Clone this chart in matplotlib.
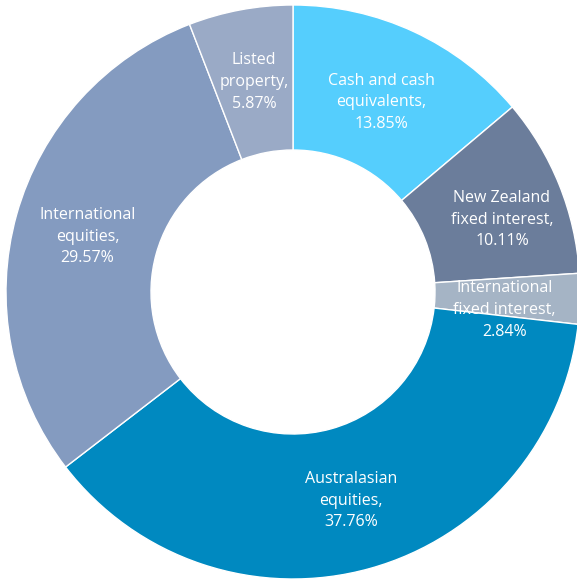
import matplotlib.pyplot as plt

labels = ['Cash and cash\nequivalents,\n13.85%',
          'New Zealand\nfixed interest,\n10.11%',
          'International\nfixed interest,\n2.84%',
          'Australasian\nequities,\n37.76%',
          'International\nequities,\n29.57%',
          'Listed\nproperty,\n5.87%']
values = [13.85, 10.11, 2.84, 37.76, 29.57, 5.87]
colors = ['#55CEFD', '#6B7D9B', '#A5B4C5', '#0089C0', '#849BC0', '#9AAAC6']

# small label nudges (px right, px down) to match the original placement
nudges = [(-1, 3), (12, 7), (-1, 13), (1, 4), (-1, 2), (0, -1)]

fig = plt.figure(figsize=(5.77, 5.80), dpi=100)
ax = fig.add_axes([0, 0, 1, 1])

wedges, texts = ax.pie(values, labels=labels, colors=colors, startangle=90,
                       counterclock=False, center=(293, 288), radius=287,
                       labeldistance=0.74, frame=True,
                       wedgeprops=dict(width=145, edgecolor='white', linewidth=1),
                       textprops=dict(color='white', fontsize=11.5,
                                      family=['Open Sans', 'DejaVu Sans'],
                                      linespacing=1.48))
for t, (dx, dy) in zip(texts, nudges):
    t.set_ha('center')
    t.set_va('center')
    x, y = t.get_position()
    t.set_position((x + dx, y - dy))

ax.set_xlim(0, 577)
ax.set_ylim(0, 580)
ax.set_aspect('equal')
ax.axis('off')

plt.savefig('out.png', dpi=100, facecolor='white')
